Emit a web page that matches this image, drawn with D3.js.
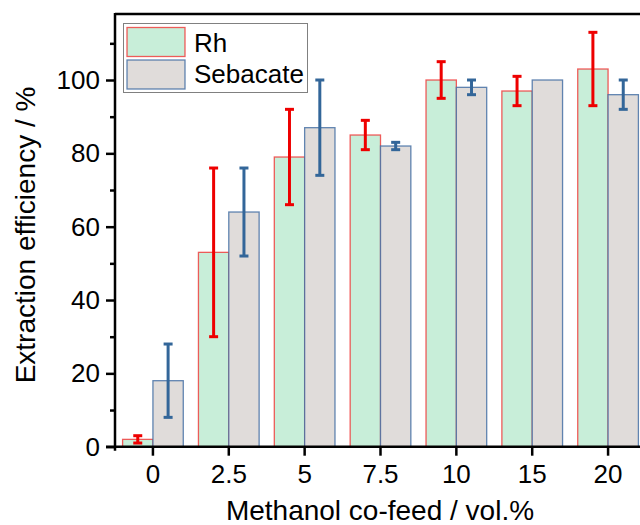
<!DOCTYPE html>
<html>
<head>
<meta charset="utf-8">
<script src="https://cdn.jsdelivr.net/npm/d3@7"></script>
<style>
  html, body { margin: 0; padding: 0; background: #fff; overflow: hidden; }
  svg { display: block; font-family: "Liberation Sans", Arial, sans-serif; }
</style>
</head>
<body>
<svg id="chart" width="640" height="525"></svg>
<script>
const categories = ["0", "2.5", "5", "7.5", "10", "15", "20"];
const seriesNames = ["Rh", "Sebacate"];
const rhValues = [2, 53, 79, 85, 100, 97, 103];
const rhErrors = [1, 23, 13, 4, 5, 4, 10];
const sebValues = [18, 64, 87, 82, 98, 100, 96];
const sebErrors = [10, 12, 13, 1, 2, 0, 4];
const yTicks = [0, 20, 40, 60, 80, 100];
const yMinorTicks = [10, 30, 50, 70, 90, 110];

(function () {
const svg = d3.select("#chart");
const mLeft = 115, mRight = 646, mTop = 14, mBottom = 446.7;

const x = d3.scaleBand().domain(categories).range([mLeft, mRight])
  .paddingInner(0.2).paddingOuter(0.1);
const sub = d3.scaleBand().domain(seriesNames).range([0, x.bandwidth()]).padding(0);
const y = d3.scaleLinear().domain([0, 118]).range([mBottom, mTop]);

const series = [
  { name: "Rh", values: rhValues, errors: rhErrors, fill: "#c8eed9", stroke: "rgba(240,40,40,0.75)", err: "#ee0000" },
  { name: "Sebacate", values: sebValues, errors: sebErrors, fill: "#e0dcda", stroke: "rgba(60,105,160,0.8)", err: "#336699" }
];

// bars
series.forEach(s => {
  const g = svg.append("g");
  g.selectAll("rect").data(categories).join("rect")
    .attr("x", (c) => x(c) + sub(s.name))
    .attr("y", (c, i) => y(s.values[i]))
    .attr("width", sub.bandwidth())
    .attr("height", (c, i) => y(0) - y(s.values[i]))
    .attr("fill", s.fill)
    .attr("stroke", s.stroke)
    .attr("stroke-width", 1.3);
});

// error bars
series.forEach(s => {
  const g = svg.append("g");
  categories.forEach((c, i) => {
    if (!s.errors[i]) return;
    const cx = x(c) + sub(s.name) + sub.bandwidth() / 2;
    const y1 = y(s.values[i] + s.errors[i]);
    const y2 = y(s.values[i] - s.errors[i]);
    g.append("line").attr("x1", cx).attr("x2", cx).attr("y1", y1).attr("y2", y2)
      .attr("stroke", s.err).attr("stroke-width", 3);
    [y1, y2].forEach(yy => g.append("line")
      .attr("x1", cx - 4.5).attr("x2", cx + 4.5).attr("y1", yy).attr("y2", yy)
      .attr("stroke", s.err).attr("stroke-width", 3));
  });
});

// axes
const yAxis = svg.append("g").attr("transform", `translate(${mLeft},0)`)
  .call(d3.axisLeft(y).tickValues(yTicks).tickSize(9).tickPadding(6).tickFormat(d3.format("d")));
yAxis.select(".domain").remove();
yAxis.selectAll(".tick line").attr("stroke", "#000").attr("stroke-width", 2.5);
yAxis.selectAll(".tick text").attr("font-size", 26).attr("fill", "#000")
  .attr("font-family", "'Liberation Sans', Arial, sans-serif");
const yMinor = svg.append("g").attr("transform", `translate(${mLeft},0)`)
  .call(d3.axisLeft(y).tickValues(yMinorTicks).tickSize(5).tickFormat(""));
yMinor.select(".domain").remove();
yMinor.selectAll(".tick line").attr("stroke", "#000").attr("stroke-width", 2.5);

const xAxis = svg.append("g").attr("transform", `translate(0,${mBottom})`)
  .call(d3.axisBottom(x).tickSize(9).tickPadding(9));
xAxis.select(".domain").remove();
xAxis.selectAll(".tick line").attr("stroke", "#000").attr("stroke-width", 2.5);
xAxis.selectAll(".tick text").attr("font-size", 26).attr("fill", "#000")
  .attr("font-family", "'Liberation Sans', Arial, sans-serif");

// frame lines
svg.append("line").attr("x1", mLeft - 9).attr("x2", 640).attr("y1", mBottom).attr("y2", mBottom)
  .attr("stroke", "#000").attr("stroke-width", 2.5);
svg.append("line").attr("x1", mLeft).attr("x2", mLeft).attr("y1", mTop - 1).attr("y2", mBottom + 4)
  .attr("stroke", "#000").attr("stroke-width", 2.5);
svg.append("line").attr("x1", mLeft).attr("x2", 640).attr("y1", mTop).attr("y2", mTop)
  .attr("stroke", "#000").attr("stroke-width", 2.5);

// titles
svg.append("text").attr("x", 380).attr("y", 520)
  .attr("text-anchor", "middle").attr("font-size", 28).attr("fill", "#000")
  .text("Methanol co-feed / vol.%");
svg.append("text").attr("transform", `translate(35,${235}) rotate(-90)`)
  .attr("text-anchor", "middle").attr("font-size", 28).attr("fill", "#000")
  .text("Extraction efficiency / %");

// legend
const lg = svg.append("g");
lg.append("rect").attr("x", 123.5).attr("y", 23.5).attr("width", 184).attr("height", 69)
  .attr("fill", "#fff").attr("stroke", "#808080").attr("stroke-width", 1);
series.forEach((s, i) => {
  lg.append("rect").attr("x", 127).attr("y", 27.5 + i * 32.5).attr("width", 58).attr("height", 29)
    .attr("fill", s.fill).attr("stroke", s.stroke).attr("stroke-width", 1.3);
  lg.append("text").attr("x", 194).attr("y", 51.5 + i * 31.5)
    .attr("font-size", 26).attr("fill", "#000").text(s.name);
});
})();
</script>
</body>
</html>
